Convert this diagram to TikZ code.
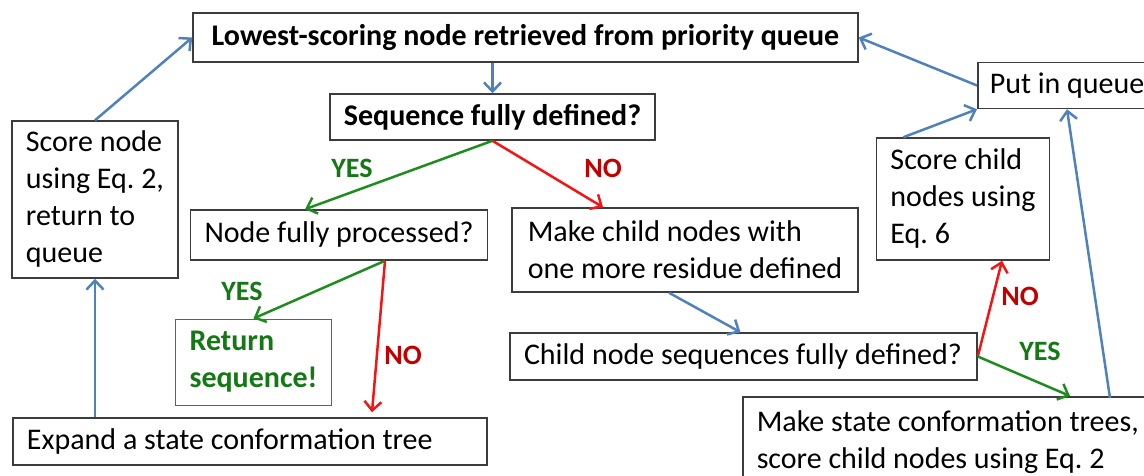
\documentclass[tikz,border=0pt]{standalone}
\usepackage{fontspec}
\setmainfont{Carlito}
\usetikzlibrary{arrows.meta,calc}

\definecolor{boxgray}{RGB}{60,60,60}
\definecolor{arrblue}{RGB}{79,129,189}
\definecolor{arrgreen}{RGB}{30,140,30}
\definecolor{txtgreen}{RGB}{20,120,20}
\definecolor{arrred}{RGB}{245,20,20}
\definecolor{txtred}{RGB}{195,0,0}

\tikzset{every picture/.style={line width=0.75pt}}

\begin{document}
\begin{tikzpicture}[x=1pt,y=1pt,yscale=-1,
	box/.style={draw=boxgray,line width=1.5,inner xsep=14,inner ysep=0,align=flush left,font=\fontsize{30}{37}\selectfont\frenchspacing},
	bbox/.style={box,font=\fontsize{30}{37}\selectfont\bfseries},
	arr/.style={line width=2.5,-{Straight Barb[length=9pt,width=17pt]}},
	blu/.style={arr,draw=arrblue},
	grn/.style={arr,draw=arrgreen},
	rd/.style={arr,draw=arrred},
	lab/.style={font=\fontsize{28}{30}\selectfont\bfseries}]
	\useasboundingbox (0,0) rectangle (1144,476);

	% Text Node
	\node [bbox,minimum width=665,minimum height=49] (top) at (525.5,37.5) {Lowest-scoring node retrieved from priority queue};
	% Text Node
	\node [bbox,minimum width=325,minimum height=46] (seq) at (492.5,117) {Sequence fully defined?};
	% Text Node
	\node [box,minimum width=164,minimum height=157] (score) at (95,199.5) {Score node\\using Eq. 2,\\return to\\queue};
	% Text Node
	\node [box,anchor=west,inner xsep=12,text width=200,minimum height=46] (put) at (977,85.5) {Put in queue};
	% Text Node
	\node [box,minimum width=172,minimum height=122] (schild) at (963,199) {Score child\\nodes using\\Eq. 6};
	% Text Node
	\node [box,minimum width=296,minimum height=50] (nfp) at (339,235) {Node fully processed?};
	% Text Node
	\node [box,minimum width=346,minimum height=84] (make) at (685,250) {Make child nodes with\\one more residue defined};
	% Text Node
	\node [bbox,draw=arrgreen,line width=1,text=txtgreen,minimum width=153,minimum height=86] (ret) at (253.5,362) {Return\\sequence!};
	% Text Node
	\node [box,text width=439,minimum height=47] (cseq) at (743.5,356.5) {Child node sequences fully defined?};
	% Text Node
	\node [box,text width=446,minimum height=47] (expand) at (250,441.5) {Expand a state conformation tree};
	% Text Node
	\node [box,anchor=north west,text width=420,minimum height=90] (trees) at (742,396) {Make state conformation trees,\\score child nodes using Eq. 2};

	%Straight Lines: queue loop
	\draw [blu] (score.north) -- (top.west) ;
	\draw [blu] (seq.north |- top.south) -- (seq.north) ;
	\draw [blu] (put.west) -- (top.east) ;
	\draw [blu] (schild.134) -- (put.south west) ;
	\draw [blu] ($(trees.north west)+(368,2)$) -- ($(put.south west)+(90,0)$) ;
	\draw [blu] (score.south |- expand.north) -- (score.south) ;
	\draw [blu] ($(make.south)+(-16,0)$) -- ($(cseq.north)+(-3,0)$) ;

	%Straight Lines: decisions
	\draw [grn] (seq.south) -- ($(nfp.north)+(-34,0)$) ;
	\draw [rd] (seq.south) -- ($(make.north)+(-82,0)$) ;
	\coordinate (nfpout) at ($(nfp.south)+(46,0)$) ;
	\draw [grn] (nfpout) -- (ret.north) ;
	\draw [rd] (nfpout) -- ($(expand.north)+(122,-5)$) ;
	\draw [rd] (cseq.east) -- ($(schild.south)+(39,0)$) ;
	\draw [grn] (cseq.east) -- ($(trees.north west)+(328,0)$) ;

	% Text Node
	\node [lab,text=txtgreen] (yes1) at (352,168) {YES};
	\node [lab,text=txtred] (no1) at (603,168) {NO};
	\node [lab,text=txtgreen] (yes2) at (242,291) {YES};
	\node [lab,text=txtred] (no2) at (403,355) {NO};
	\node [lab,text=txtred] (no3) at (1020,296) {NO};
	\node [lab,text=txtgreen] (yes3) at (1040,351) {YES};

\end{tikzpicture}
\end{document}
